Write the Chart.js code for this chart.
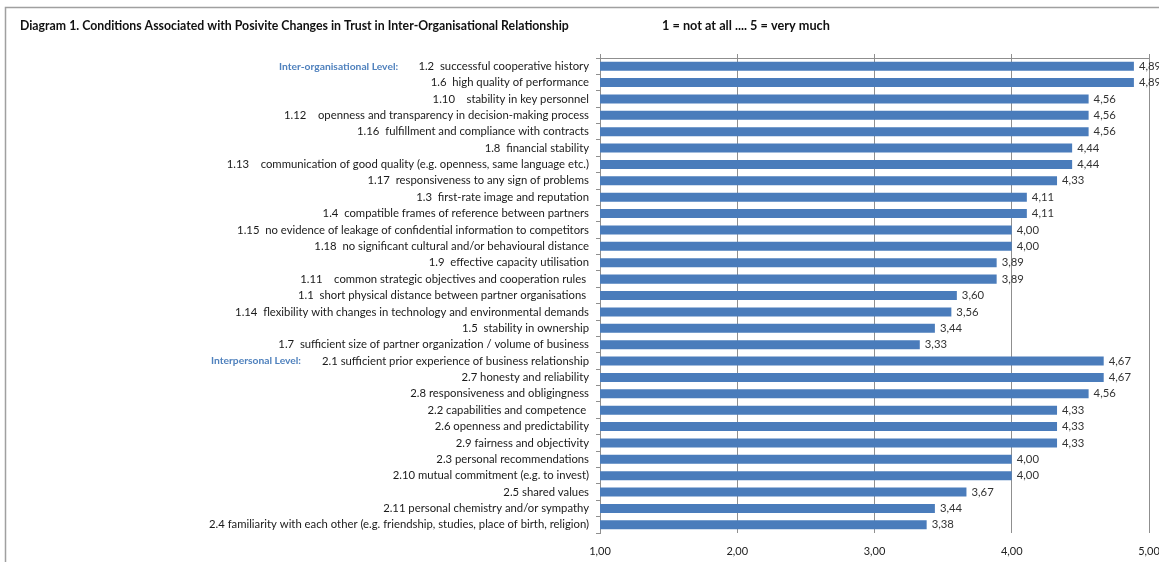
<!DOCTYPE html>
<html>
<head>
<meta charset="utf-8">
<script src="https://cdn.jsdelivr.net/npm/chart.js@4.4.1/dist/chart.umd.min.js"></script>
<style>
  html, body { margin: 0; padding: 0; background: #fff; overflow: hidden; }
  #wrap { width: 1159px; height: 562px; overflow: hidden; }
</style>
</head>
<body>
<div id="wrap"><canvas id="trustChart" width="1200" height="562"></canvas></div>
<script>
// Mean scores on a 1..5 scale, one row per condition (top to bottom)
const conditions = [
  "1.2  successful cooperative history",
  "1.6  high quality of performance",
  "1.10    stability in key personnel",
  "1.12    openness and transparency in decision-making process",
  "1.16  fulfillment and compliance with contracts",
  "1.8  financial stability",
  "1.13    communication of good quality (e.g. openness, same language etc.)",
  "1.17  responsiveness to any sign of problems",
  "1.3  first-rate image and reputation",
  "1.4  compatible frames of reference between partners",
  "1.15  no evidence of leakage of confidential information to competitors",
  "1.18  no significant cultural and/or behavioural distance",
  "1.9  effective capacity utilisation",
  "1.11    common strategic objectives and cooperation rules ",
  "1.1  short physical distance between partner organisations ",
  "1.14  flexibility with changes in technology and environmental demands",
  "1.5  stability in ownership",
  "1.7  sufficient size of partner organization / volume of business",
  "2.1 sufficient prior experience of business relationship",
  "2.7 honesty and reliability",
  "2.8 responsiveness and obligingness",
  "2.2 capabilities and competence ",
  "2.6 openness and predictability",
  "2.9 fairness and objectivity",
  "2.3 personal recommendations",
  "2.10 mutual commitment (e.g. to invest)",
  "2.5 shared values",
  "2.11 personal chemistry and/or sympathy",
  "2.4 familiarity with each other (e.g. friendship, studies, place of birth, religion)"
];

const meanScores = [
  4.89, 4.89, 4.56, 4.56, 4.56, 4.44, 4.44, 4.33, 4.11, 4.11,
  4.00, 4.00, 3.89, 3.89, 3.60, 3.56, 3.44, 3.33,
  4.67, 4.67, 4.56, 4.33, 4.33, 4.33, 4.00, 4.00, 3.67, 3.44, 3.38
];

const scaleTicks = [1, 2, 3, 4, 5];

// Section headings and the row each one sits on
const sectionNames = ["Inter-organisational Level:", "Interpersonal Level:"];
const sectionRows = [0, 18];

const chartTitle = "Diagram 1. Conditions Associated with Posivite Changes in Trust in Inter-Organisational Relationship";
const scaleNote = "1 = not at all .... 5 = very much";

const FONT = "Lato, 'Open Sans', sans-serif";
const GRID = "#8f8f8f";
const fmt = v => v.toFixed(2).replace(".", ",");

const frameAndTitle = {
  id: "frameAndTitle",
  beforeDraw(chart) {
    const c = chart.ctx;
    c.save();
    c.fillStyle = "#fff";
    c.fillRect(0, 0, chart.width, chart.height);
    c.strokeStyle = "#a0a0a0";
    c.lineWidth = 1.5;
    c.beginPath();
    c.moveTo(5.5, chart.height);
    c.lineTo(5.5, 7.5);
    c.lineTo(chart.width, 7.5);
    c.stroke();
    c.fillStyle = "#111";
    c.textBaseline = "middle";
    c.font = "bold 12.3px " + FONT;
    c.fillText(chartTitle, 20, 26);
    c.font = "bold 12.7px " + FONT;
    c.fillText(scaleNote, 662, 26);
    c.restore();
  },
  afterDraw(chart) {
    const c = chart.ctx;
    const y = chart.scales.y;
    c.save();
    c.font = "bold 10.3px " + FONT;
    c.fillStyle = "#4f81bd";
    c.textBaseline = "middle";
    c.textAlign = "left";
    const xs = [279, 211];
    sectionNames.forEach((name, i) => {
      c.fillText(name, xs[i], y.getPixelForValue(sectionRows[i]));
    });
    c.restore();
  }
};

const valueLabels = {
  id: "valueLabels",
  afterDatasetsDraw(chart) {
    const c = chart.ctx;
    const meta = chart.getDatasetMeta(0);
    c.save();
    c.font = "11.3px " + FONT;
    c.fillStyle = "#333";
    c.textBaseline = "middle";
    c.textAlign = "left";
    meta.data.forEach((bar, i) => {
      c.fillText(fmt(meanScores[i]), bar.x + 5, bar.y);
    });
    c.restore();
  }
};

new Chart(document.getElementById("trustChart"), {
  type: "bar",
  data: {
    labels: conditions,
    datasets: [{
      data: meanScores,
      backgroundColor: "#4a7cbb",
      barPercentage: 0.55,
      categoryPercentage: 1
    }]
  },
  options: {
    indexAxis: "y",
    responsive: false,
    animation: false,
    layout: { padding: { top: 54, right: 51, bottom: 0, left: 0 } },
    plugins: { legend: { display: false }, tooltip: { enabled: false } },
    scales: {
      x: {
        position: "top",
        min: 1, max: 5,
        afterBuildTicks: s => { s.ticks = scaleTicks.map(v => ({ value: v })); },
        ticks: { display: false },
        grid: { color: GRID, tickLength: 4 },
        border: { color: GRID },
        afterFit: s => { s.height = 4; }
      },
      x2: {
        type: "linear",
        position: "bottom",
        min: 1, max: 5,
        afterBuildTicks: s => { s.ticks = scaleTicks.map(v => ({ value: v })); },
        ticks: { padding: 4, color: "#222", font: { family: FONT, size: 11 }, callback: v => fmt(v) },
        grid: { display: false },
        border: { display: false },
        afterFit: s => { s.height = 29; }
      },
      y: {
        offset: true,
        grid: { offset: true, drawOnChartArea: false, tickLength: 4, color: GRID },
        border: { color: GRID },
        ticks: { autoSkip: false, padding: 7, color: "#1a1a1a", font: { family: FONT, size: 11.3 } },
        afterFit: s => { s.width = 600; }
      }
    }
  },
  plugins: [frameAndTitle, valueLabels]
});
</script>
</body>
</html>
